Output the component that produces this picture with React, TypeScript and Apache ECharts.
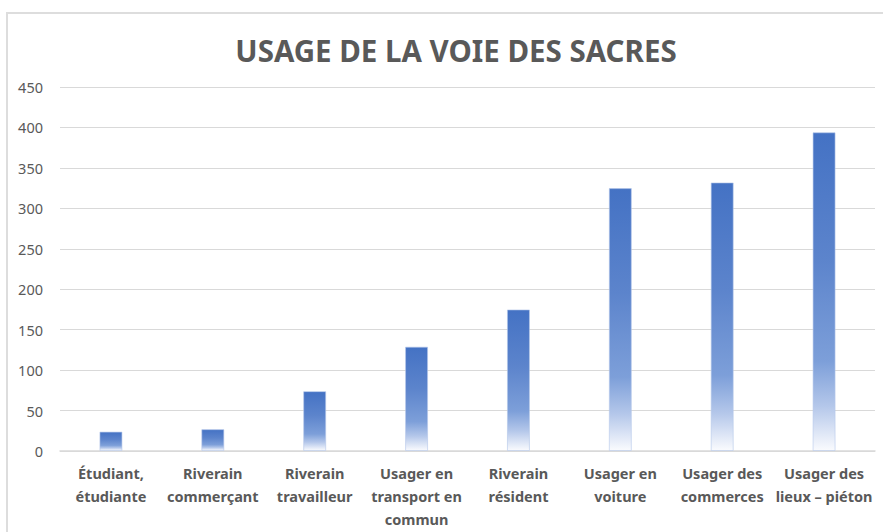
import React, { useEffect, useRef } from "react";
import * as echarts from "echarts";

const TITLE = "USAGE DE LA VOIE DES SACRES";
const categories = [
  "Étudiant,\nétudiante",
  "Riverain\ncommerçant",
  "Riverain\ntravailleur",
  "Usager en\ntransport en\ncommun",
  "Riverain\nrésident",
  "Usager en\nvoiture",
  "Usager des\ncommerces",
  "Usager des\nlieux – piéton",
];
const values = [24, 27, 74, 129, 175, 325, 332, 394];
const yMin = 0;
const yMax = 450;
const yInterval = 50;

export default function App() {
  const ref = useRef<HTMLDivElement>(null);
  useEffect(() => {
    if (!ref.current) return;
    const chart = echarts.init(ref.current, undefined, { renderer: "svg" });
    chart.setOption({
      animation: false,
      backgroundColor: "#ffffff",
      title: {
        text: TITLE,
        left: 451,
        top: 30,
        textAlign: "center",
        textStyle: {
          fontFamily: "'Noto Sans', sans-serif",
          fontWeight: "bold",
          fontSize: 29.5,
          color: "#595959",
        },
      },
      graphic: [
        {
          type: "rect",
          shape: { x: 7, y: 13, width: 1000, height: 700 },
          style: { fill: "none", stroke: "#DDDDDD", lineWidth: 2 },
          silent: true,
        },
      ],
      grid: { left: 60, right: 8, top: 87, bottom: 81, containLabel: false },
      xAxis: {
        type: "category",
        data: categories,
        axisLine: { show: true, lineStyle: { color: "#D9D9D9", width: 1.5 } },
        axisTick: { show: false },
        axisLabel: {
          interval: 0,
          margin: 10,
          color: "#595959",
          fontFamily: "'Noto Sans', sans-serif",
          fontWeight: "bold",
          fontSize: 14.5,
          lineHeight: 23,
        },
      },
      yAxis: {
        type: "value",
        min: yMin,
        max: yMax,
        interval: yInterval,
        axisLine: { show: false },
        axisTick: { show: false },
        splitLine: { lineStyle: { color: "#D9D9D9", width: 1 } },
        axisLabel: {
          margin: 17,
          color: "#595959",
          fontFamily: "'Noto Sans', sans-serif",
          fontSize: 14.5,
        },
      },
      series: [
        {
          type: "bar",
          data: values,
          barWidth: 23,
          itemStyle: {
            borderColor: "rgba(180,199,234,0.6)",
            borderWidth: 1,
            color: new echarts.graphic.LinearGradient(0, 0, 0, 1, [
              { offset: 0, color: "#4472C4" },
              { offset: 0.4, color: "#5C84CC" },
              { offset: 0.72, color: "#7D9FD9" },
              { offset: 0.86, color: "#B4C7EA" },
              { offset: 1, color: "#FAFBFE" },
            ]),
          },
        },
      ],
    });
    return () => chart.dispose();
  }, []);
  return (
    <div
      ref={ref}
      style={{ position: "fixed", left: 0, top: 0, width: 883, height: 532 }}
    />
  );
}
